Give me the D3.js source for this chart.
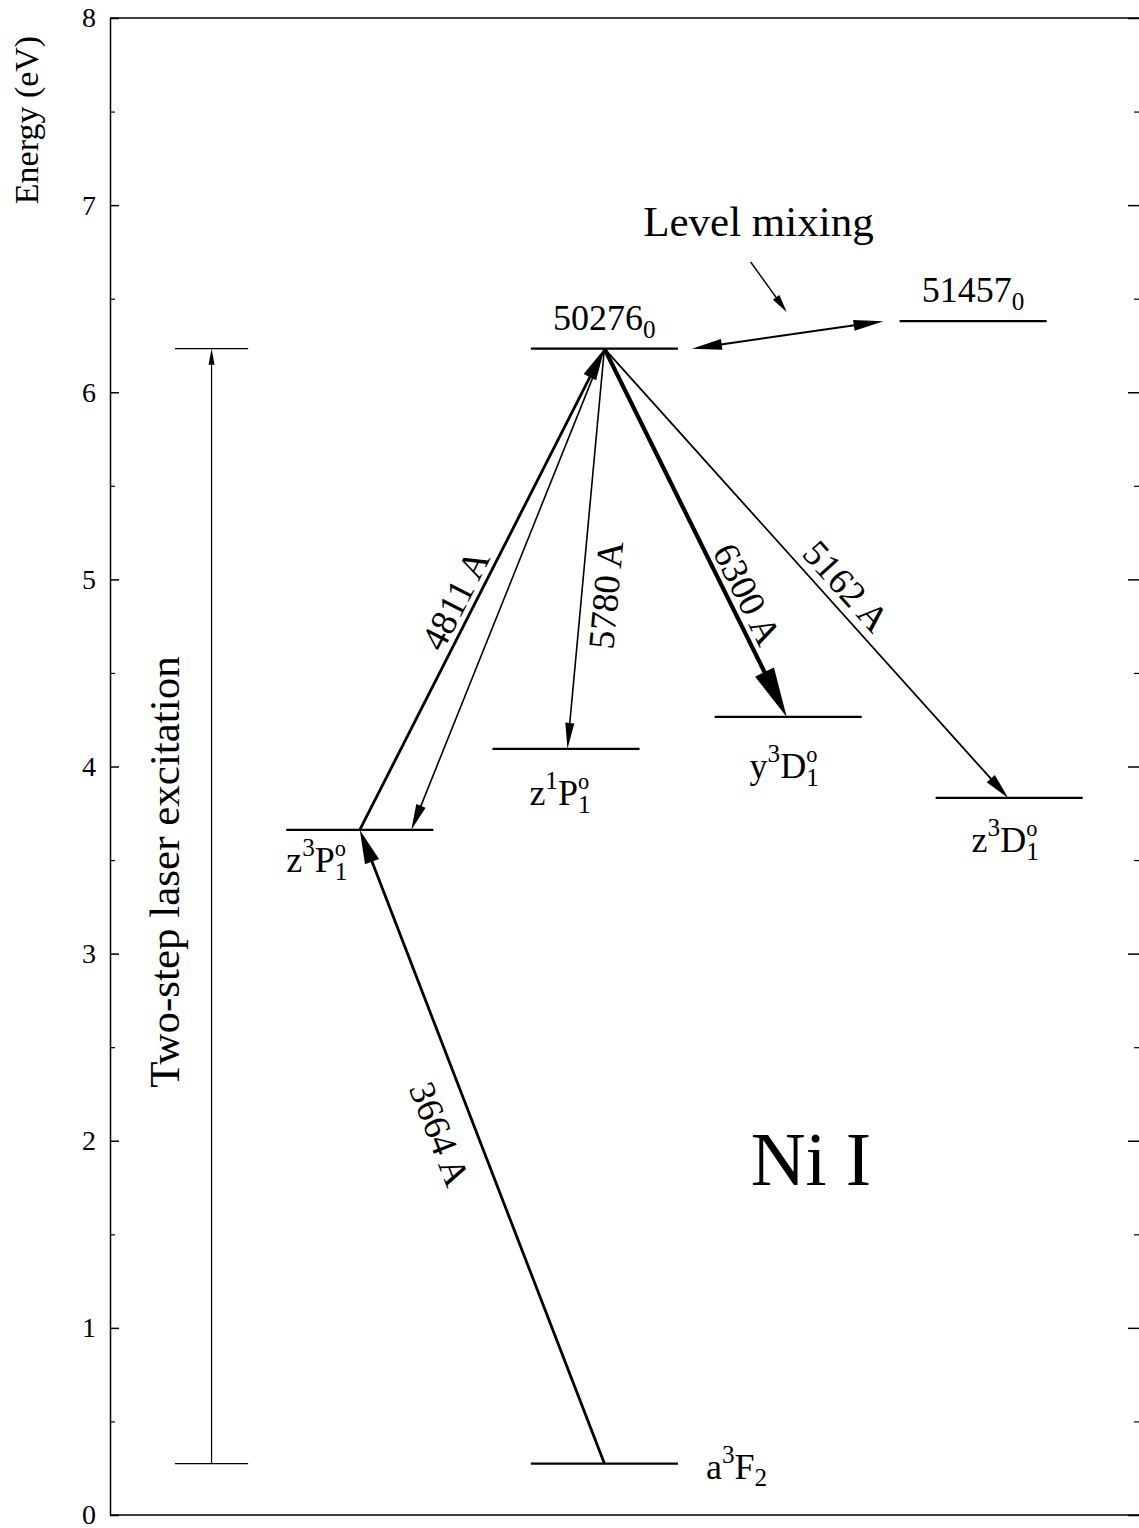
<!DOCTYPE html>
<html>
<head>
<meta charset="utf-8">
<script src="https://cdn.jsdelivr.net/npm/d3@7"></script>
<style>
  html, body { margin: 0; padding: 0; background: #fff; }
  svg text { font-family: "Liberation Serif", "Times New Roman", serif; fill: #000; }
</style>
</head>
<body>
<svg id="chart" width="1139" height="1528"></svg>
<script>
/* Ni I energy level diagram */

// ---- data -------------------------------------------------------------
const levelIds    = ["50276", "51457", "a3F2", "z3P1o", "z1P1o", "y3D1o", "z3D1o"];
const levelEnergy = [6.233, 6.380, 0.275, 3.661, 4.094, 4.265, 3.832];   // eV
const levelCol    = [48.0, 83.8, 48.0, 24.25, 44.27, 65.84, 87.3];       // diagram column (0..100)
const levelLabel  = [
  [["50276"], ["0", "sub"]],
  [["51457"], ["0", "sub"]],
  [["a"], ["3", "sup"], ["F"], ["2", "sub"]],
  [["z"], ["3", "sup"], ["P"], ["1", "sub"], ["o", "stack"]],
  [["z"], ["1", "sup"], ["P"], ["1", "sub"], ["o", "stack"]],
  [["y"], ["3", "sup"], ["D"], ["1", "sub"], ["o", "stack"]],
  [["z"], ["3", "sup"], ["D"], ["1", "sub"], ["o", "stack"]]
];

const transFrom  = ["a3F2", "z3P1o", "50276", "50276", "50276", "50276"];
const transTo    = ["z3P1o", "50276", "z3P1o", "z1P1o", "y3D1o", "z3D1o"];
const transLabel = ["3664 A", "4811 A", "", "5780 A", "6300 A", "5162 A"];

const excitationCol = 9.86;               // two-step laser bar
const excitationFrom = "a3F2", excitationTo = "50276";

const yTicks = [0, 1, 2, 3, 4, 5, 6, 7, 8];

// ---- layout / style ---------------------------------------------------
const mLeft = 110, mTop = 18, mBottom = 1515, mRight = 1140;
const levelHalf = 7.14, excHalf = 3.55;
const serif = '"Liberation Serif", "Times New Roman", serif';

// per-level label placement (px offsets)
const labelStyle = {
  "50276": { anchor: "middle", at: "center", dx: 0,  dy: -19 },
  "51457": { anchor: "middle", at: "center", dx: 0,  dy: -19 },
  "a3F2":  { anchor: "start",  at: "right",  dx: 28, dy: 15 },
  "z3P1o": { anchor: "start",  at: "left",   dx: 0,  dy: 42 },
  "z1P1o": { anchor: "middle", at: "center", dx: -6, dy: 56 },
  "y3D1o": { anchor: "middle", at: "center", dx: -4, dy: 61 },
  "z3D1o": { anchor: "middle", at: "center", dx: -4, dy: 54 }
};
// per-transition line width, head length/width, end offset (cols), label t / perpendicular offset
const transStyle = [
  { w: 2.8, hl: 34, hw: 15, endOff: 0,    t: 0.54, off: 35 },
  { w: 2.8, hl: 32, hw: 14, endOff: 0,    t: 0.46, off: 19 },
  { w: 1.6, hl: 26, hw: 10, endOff: 5.0,  t: 0,    off: 0 },
  { w: 1.6, hl: 26, hw: 9,  endOff: 0.14, t: 0.61, off: 24 },
  { w: 4.2, hl: 50, hw: 21, endOff: -0.14, t: 0.69, off: 19 },
  { w: 1.8, hl: 26, hw: 11, endOff: -0.1, t: 0.56, off: 21 }
];

const svg = d3.select("#chart");

const x = d3.scaleLinear().domain([0, 100]).range([mLeft, mRight]);
const y = d3.scaleLinear().domain([0, 8]).range([mBottom, mTop]);

const E = id => levelEnergy[levelIds.indexOf(id)];
const C = id => levelCol[levelIds.indexOf(id)];

// ---- frame & axes -----------------------------------------------------
svg.append("line").attr("x1", mLeft).attr("x2", mRight).attr("y1", mTop).attr("y2", mTop)
  .attr("stroke", "#000").attr("stroke-width", 1.5);
svg.append("line").attr("x1", mLeft).attr("x2", mRight).attr("y1", mBottom).attr("y2", mBottom)
  .attr("stroke", "#000").attr("stroke-width", 1.5);

const minor = d3.range(0.5, 8, 1);

const gL = svg.append("g").attr("transform", `translate(${mLeft},0)`)
  .call(d3.axisLeft(y).tickValues(yTicks).tickFormat(d3.format("d"))
    .tickSizeInner(-9).tickSizeOuter(0).tickPadding(14));
gL.select(".domain").attr("stroke-width", 1.5);
gL.selectAll(".tick line").attr("stroke-width", 1.5);
gL.selectAll(".tick text").attr("font-family", serif).attr("font-size", 28).attr("fill", "#000");

svg.append("g").attr("transform", `translate(${mLeft},0)`)
  .call(d3.axisLeft(y).tickValues(minor).tickFormat("").tickSizeInner(-5).tickSizeOuter(0))
  .call(g => g.select(".domain").remove())
  .selectAll(".tick line").attr("stroke-width", 1.2);

const gR = svg.append("g").attr("transform", `translate(${mRight},0)`)
  .call(d3.axisRight(y).tickValues(yTicks).tickFormat("").tickSizeInner(-12).tickSizeOuter(0));
gR.selectAll(".tick line").attr("stroke-width", 1.5);
svg.append("g").attr("transform", `translate(${mRight},0)`)
  .call(d3.axisRight(y).tickValues(minor).tickFormat("").tickSizeInner(-6).tickSizeOuter(0))
  .call(g => g.select(".domain").remove())
  .selectAll(".tick line").attr("stroke-width", 1.2);

svg.append("text")
  .attr("transform", `translate(38,120) rotate(-90)`)
  .attr("text-anchor", "middle")
  .attr("font-size", 34)
  .text("Energy (eV)");

// ---- helpers ----------------------------------------------------------
function arrow(g, x1, y1, x2, y2, w, hl, hw, both) {
  const dx = x2 - x1, dy = y2 - y1, L = Math.hypot(dx, dy);
  const ux = dx / L, uy = dy / L, nx = -uy, ny = ux;
  const sx = both ? x1 + ux * hl * 0.8 : x1, sy = both ? y1 + uy * hl * 0.8 : y1;
  g.append("line")
    .attr("x1", sx).attr("y1", sy)
    .attr("x2", x2 - ux * hl * 0.8).attr("y2", y2 - uy * hl * 0.8)
    .attr("stroke", "#000").attr("stroke-width", w);
  const head = (tx, ty, vx, vy) => {
    const bx = tx - vx * hl, by = ty - vy * hl;
    g.append("path")
      .attr("d", `M${tx},${ty}L${bx + nx * hw / 2},${by + ny * hw / 2}L${bx - nx * hw / 2},${by - ny * hw / 2}Z`)
      .attr("fill", "#000");
  };
  head(x2, y2, ux, uy);
  if (both) head(x1, y1, -ux, -uy);
}

function richText(g, parts, size) {
  const t = g.append("text").attr("font-size", size);
  let shift = 0, lastSub = null;
  parts.forEach(([s, kind]) => {
    let target = 0, fs = size, dx = 0;
    if (kind === "sup") { target = -0.44 * size; fs = 0.7 * size; }
    if (kind === "sub") { target = 0.22 * size; fs = 0.7 * size; }
    if (kind === "stack") { target = -0.44 * size; fs = 0.62 * size; dx = -lastSub.node().getComputedTextLength(); }
    const sp = t.append("tspan").attr("font-size", fs).attr("dy", target - shift).text(s);
    if (dx) sp.attr("dx", dx);
    if (kind === "sub") lastSub = sp;
    shift = target;
  });
  return t;
}

// ---- levels -----------------------------------------------------------
const gLev = svg.append("g");
levelIds.forEach((id, i) => {
  const yy = y(levelEnergy[i]);
  gLev.append("line")
    .attr("x1", x(levelCol[i] - levelHalf)).attr("x2", x(levelCol[i] + levelHalf))
    .attr("y1", yy).attr("y2", yy)
    .attr("stroke", "#000").attr("stroke-width", 2.2);
  const st = labelStyle[id];
  const bx = st.at === "left" ? x(levelCol[i] - levelHalf)
           : st.at === "right" ? x(levelCol[i] + levelHalf) : x(levelCol[i]);
  const g = gLev.append("g").attr("transform", `translate(${bx + st.dx},${yy + st.dy})`);
  richText(g, levelLabel[i], 36).attr("text-anchor", st.anchor);
});

// ---- two-step excitation bar -----------------------------------------
const gExc = svg.append("g");
[excitationFrom, excitationTo].forEach(id => {
  gExc.append("line")
    .attr("x1", x(excitationCol - excHalf)).attr("x2", x(excitationCol + excHalf))
    .attr("y1", y(E(id))).attr("y2", y(E(id)))
    .attr("stroke", "#000").attr("stroke-width", 1.3);
});
arrow(gExc, x(excitationCol), y(E(excitationFrom)), x(excitationCol), y(E(excitationTo)), 1.2, 16, 6);
gExc.append("text")
  .attr("transform", `translate(179,${y(3.436)}) rotate(-90)`)
  .attr("text-anchor", "middle").attr("font-size", 43)
  .text("Two-step laser excitation");

// ---- transitions ------------------------------------------------------
const gTr = svg.append("g");
transFrom.forEach((f, i) => {
  const s = transStyle[i];
  const x1 = x(C(f)), y1 = y(E(f));
  const x2 = x(C(transTo[i]) + s.endOff), y2 = y(E(transTo[i]));
  arrow(gTr, x1, y1, x2, y2, s.w, s.hl, s.hw);
  if (!transLabel[i]) return;
  const a = Math.atan2(y2 - y1, x2 - x1);
  const px = x1 + (x2 - x1) * s.t + Math.sin(a) * s.off;
  const py = y1 + (y2 - y1) * s.t - Math.cos(a) * s.off;
  let rot = a * 180 / Math.PI;
  if (rot > 90) rot -= 180;
  if (rot <= -90) rot += 180;
  gTr.append("text")
    .attr("transform", `translate(${px},${py}) rotate(${rot})`)
    .attr("text-anchor", "middle").attr("dominant-baseline", "central")
    .attr("font-size", 37)
    .text(transLabel[i]);
});

// ---- level mixing -----------------------------------------------------
arrow(svg.append("g"), x(56.5), y(E("50276")), x(75.1), y(E("51457")), 2, 30, 11, true);
arrow(svg.append("g"), x(62.2), y(6.696), x(65.7), y(6.429), 1.4, 18, 8);
svg.append("text")
  .attr("x", x(62.96)).attr("y", y(6.835))
  .attr("text-anchor", "middle").attr("font-size", 43)
  .text("Level mixing");

svg.append("text")
  .attr("x", x(62.2)).attr("y", y(1.764))
  .attr("font-size", 76)
  .text("Ni I");
</script>
</body>
</html>
